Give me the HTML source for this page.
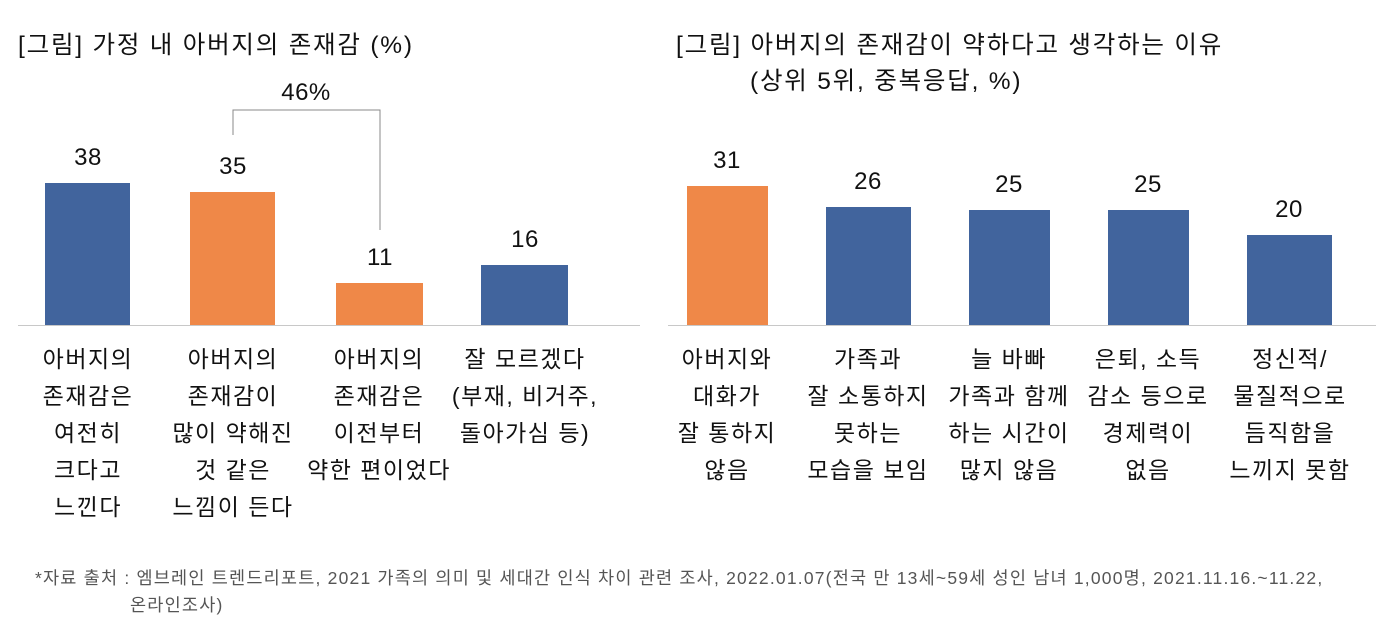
<!DOCTYPE html>
<html><head><meta charset="utf-8"><style>
body{margin:0;width:1394px;height:642px;background:#fff;position:relative;overflow:hidden;font-family:"Liberation Sans","Noto Sans CJK KR",sans-serif;color:#111}
.a{position:absolute;white-space:nowrap}
.t{font-size:24.5px;letter-spacing:1.8px}
.bar{position:absolute}
.b{background:#41649d}.o{background:#ef8848}
.v{position:absolute;font-size:24px;text-align:center;width:120px;letter-spacing:0.5px}
.c{position:absolute;font-size:23px;text-align:center;line-height:37px;width:170px;letter-spacing:1.5px}
.ax{position:absolute;height:1px;background:#c8c8c8;top:325px}
.f{font-size:17.5px;color:#555;letter-spacing:1.2px}
</style></head><body>
<div class="a t" style="left:18px;top:26px">[그림] 가정 내 아버지의 존재감 (%)</div>
<div class="a t" style="left:676px;top:26px">[그림] 아버지의 존재감이 약하다고 생각하는 이유</div>
<div class="a t" style="left:750px;top:62px">(상위 5위, 중복응답, %)</div>

<div class="ax" style="left:18px;width:622px"></div>
<div class="ax" style="left:668px;width:708px"></div>

<div class="bar b" style="left:45px;width:85px;top:183px;height:142px"></div>
<div class="bar o" style="left:190px;width:85px;top:192px;height:133px"></div>
<div class="bar o" style="left:336px;width:87px;top:283px;height:42px"></div>
<div class="bar b" style="left:481px;width:87px;top:265px;height:60px"></div>
<div class="v" style="left:28px;top:144px">38</div>
<div class="v" style="left:173px;top:153px">35</div>
<div class="v" style="left:320px;top:244px">11</div>
<div class="v" style="left:465px;top:226px">16</div>

<svg class="a" style="left:0;top:0" width="700" height="330"><polyline points="233,135 233,110 380,110 380,230" fill="none" stroke="#888" stroke-width="1"/></svg>
<div class="v" style="left:246px;top:79px">46%</div>

<div class="c" style="left:3px;top:341px">아버지의<br>존재감은<br>여전히<br>크다고<br>느낀다</div>
<div class="c" style="left:148px;top:341px">아버지의<br>존재감이<br>많이 약해진<br>것 같은<br>느낌이 든다</div>
<div class="c" style="left:294px;top:341px">아버지의<br>존재감은<br>이전부터<br>약한 편이었다</div>
<div class="c" style="left:440px;top:341px">잘 모르겠다<br>(부재, 비거주,<br>돌아가심 등)</div>

<div class="bar o" style="left:687px;width:81px;top:186px;height:139px"></div>
<div class="bar b" style="left:826px;width:85px;top:207px;height:118px"></div>
<div class="bar b" style="left:969px;width:81px;top:210px;height:115px"></div>
<div class="bar b" style="left:1108px;width:81px;top:210px;height:115px"></div>
<div class="bar b" style="left:1247px;width:85px;top:235px;height:90px"></div>
<div class="v" style="left:667px;top:147px">31</div>
<div class="v" style="left:808px;top:168px">26</div>
<div class="v" style="left:949px;top:171px">25</div>
<div class="v" style="left:1088px;top:171px">25</div>
<div class="v" style="left:1229px;top:196px">20</div>

<div class="c" style="left:642px;top:341px">아버지와<br>대화가<br>잘 통하지<br>않음</div>
<div class="c" style="left:783px;top:341px">가족과<br>잘 소통하지<br>못하는<br>모습을 보임</div>
<div class="c" style="left:924px;top:341px">늘 바빠<br>가족과 함께<br>하는 시간이<br>많지 않음</div>
<div class="c" style="left:1063px;top:341px">은퇴, 소득<br>감소 등으로<br>경제력이<br>없음</div>
<div class="c" style="left:1205px;top:341px">정신적/<br>물질적으로<br>듬직함을<br>느끼지 못함</div>

<div class="a f" style="left:35px;top:565px">*자료 출처 : 엠브레인 트렌드리포트, 2021 가족의 의미 및 세대간 인식 차이 관련 조사, 2022.01.07(전국 만 13세~59세 성인 남녀 1,000명, 2021.11.16.~11.22,</div>
<div class="a f" style="left:130px;top:592px">온라인조사)</div>
</body></html>
